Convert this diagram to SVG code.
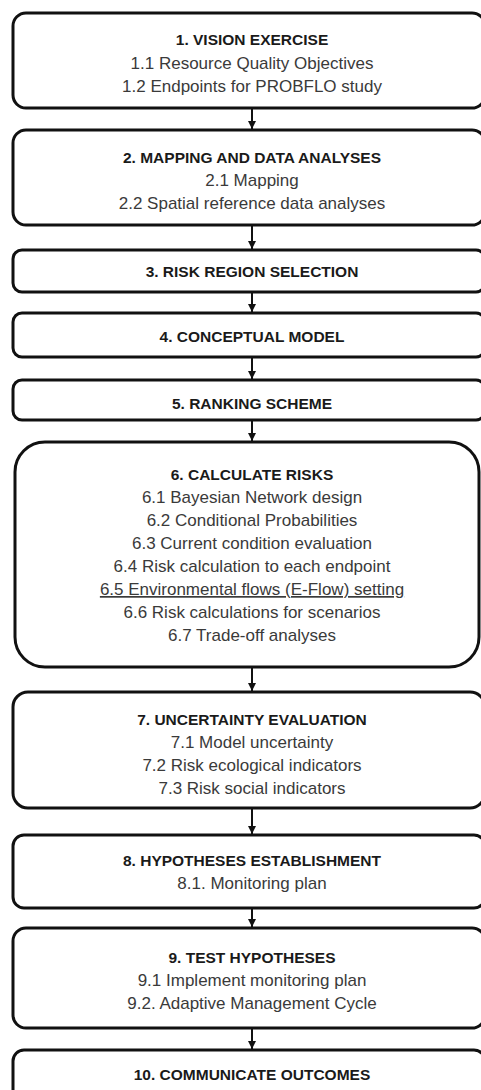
<svg xmlns="http://www.w3.org/2000/svg" width="481" height="1090" viewBox="0 0 481 1090">
<defs>
<style>
.box{fill:#fff;stroke:#111;stroke-width:3}
.t{font-family:"Liberation Sans",Arial,sans-serif;font-size:15.5px;font-weight:bold;fill:#1a1a1a;text-anchor:middle}
.s{font-family:"Liberation Sans",Arial,sans-serif;font-size:17px;fill:#3a3a3a;text-anchor:middle}
.c{stroke:#111;stroke-width:2;fill:none}
</style>
<marker id="ah" markerWidth="8" markerHeight="8" refX="8" refY="4" orient="auto" markerUnits="userSpaceOnUse">
<path d="M0,0 L8,4 L0,8 Z" fill="#111"/>
</marker>
</defs>
<rect width="481" height="1090" fill="#fff"/>
<g id="connectors">
<line class="c" x1="252" y1="109" x2="252" y2="129" marker-end="url(#ah)"/>
<line class="c" x1="252" y1="226" x2="252" y2="249" marker-end="url(#ah)"/>
<line class="c" x1="252" y1="293" x2="252" y2="312" marker-end="url(#ah)"/>
<line class="c" x1="252" y1="358" x2="252" y2="379" marker-end="url(#ah)"/>
<line class="c" x1="252" y1="421" x2="252" y2="441" marker-end="url(#ah)"/>
<line class="c" x1="252" y1="668" x2="252" y2="691" marker-end="url(#ah)"/>
<line class="c" x1="252" y1="809" x2="252" y2="834" marker-end="url(#ah)"/>
<line class="c" x1="252" y1="909" x2="252" y2="927" marker-end="url(#ah)"/>
<line class="c" x1="252" y1="1029" x2="252" y2="1049" marker-end="url(#ah)"/>
</g>
<g id="n1">
<rect class="box" x="13" y="13" width="472" height="95" rx="13"/>
<text class="t" x="252" y="45">1. VISION EXERCISE</text>
<text class="s" x="252" y="69">1.1 Resource Quality Objectives</text>
<text class="s" x="252" y="92">1.2 Endpoints for PROBFLO study</text>
</g>
<g id="n2">
<rect class="box" x="13" y="130" width="472" height="95" rx="13"/>
<text class="t" x="252" y="163">2. MAPPING AND DATA ANALYSES</text>
<text class="s" x="252" y="186">2.1 Mapping</text>
<text class="s" x="252" y="209">2.2 Spatial reference data analyses</text>
</g>
<g id="n3">
<rect class="box" x="13" y="250" width="472" height="42" rx="9"/>
<text class="t" x="252" y="277">3. RISK REGION SELECTION</text>
</g>
<g id="n4">
<rect class="box" x="13" y="313" width="472" height="44" rx="9"/>
<text class="t" x="252" y="342">4. CONCEPTUAL MODEL</text>
</g>
<g id="n5">
<rect class="box" x="13" y="380" width="472" height="40" rx="9"/>
<text class="t" x="252" y="409">5. RANKING SCHEME</text>
</g>
<g id="n6">
<rect class="box" x="15" y="442" width="464" height="225" rx="30"/>
<text class="t" x="252" y="480">6. CALCULATE RISKS</text>
<text class="s" x="252" y="503">6.1 Bayesian Network design</text>
<text class="s" x="252" y="526">6.2 Conditional Probabilities</text>
<text class="s" x="252" y="549">6.3 Current condition evaluation</text>
<text class="s" x="252" y="572">6.4 Risk calculation to each endpoint</text>
<text class="s" x="252" y="595" text-decoration="underline">6.5 Environmental flows (E-Flow) setting</text>
<text class="s" x="252" y="618">6.6 Risk calculations for scenarios</text>
<text class="s" x="252" y="641">6.7 Trade-off analyses</text>
</g>
<g id="n7">
<rect class="box" x="13" y="692" width="472" height="116" rx="15"/>
<text class="t" x="252" y="725">7. UNCERTAINTY EVALUATION</text>
<text class="s" x="252" y="748">7.1 Model uncertainty</text>
<text class="s" x="252" y="771">7.2 Risk ecological indicators</text>
<text class="s" x="252" y="794">7.3 Risk social indicators</text>
</g>
<g id="n8">
<rect class="box" x="13" y="835" width="472" height="73" rx="11"/>
<text class="t" x="252" y="866">8. HYPOTHESES ESTABLISHMENT</text>
<text class="s" x="252" y="889">8.1. Monitoring plan</text>
</g>
<g id="n9">
<rect class="box" x="13" y="928" width="472" height="100" rx="13"/>
<text class="t" x="252" y="963">9. TEST HYPOTHESES</text>
<text class="s" x="252" y="986">9.1 Implement monitoring plan</text>
<text class="s" x="252" y="1009">9.2. Adaptive Management Cycle</text>
</g>
<g id="n10">
<rect class="box" x="13" y="1050" width="472" height="60" rx="11"/>
<text class="t" x="252" y="1080">10. COMMUNICATE OUTCOMES</text>
</g>
</svg>
